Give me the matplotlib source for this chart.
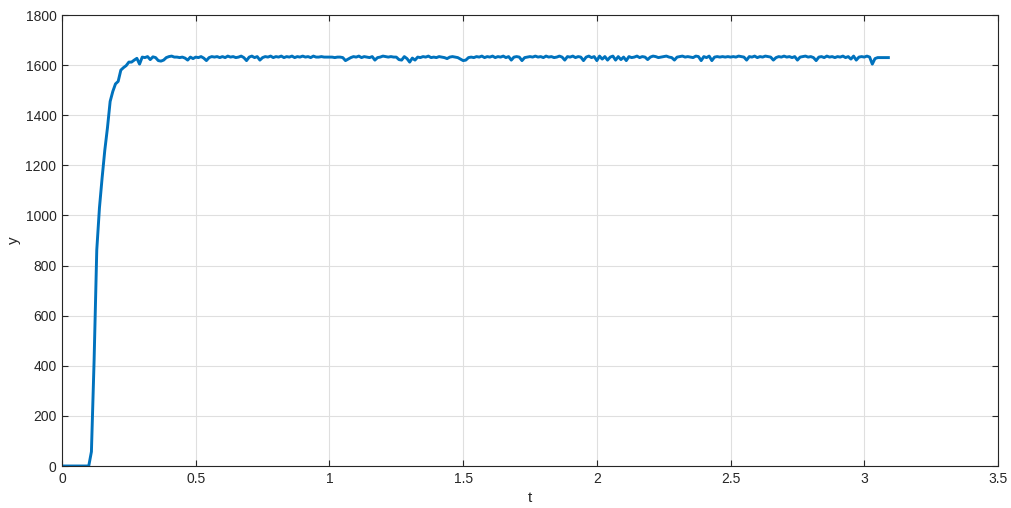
import numpy as np
import matplotlib
matplotlib.use("Agg")
import matplotlib.pyplot as plt

dt = 0.01
rise = [0, 0, 0, 0, 0, 0, 0, 0, 0, 0, 0,
        57, 420, 862, 1030, 1150, 1260, 1350, 1455, 1495,
        1525, 1535, 1580, 1590, 1598, 1612, 1612, 1620, 1627, 1604]
plateau = [
    1632, 1630, 1634, 1622, 1633, 1630, 1618, 1616, 1620, 1630,
    1634, 1636, 1632, 1632, 1630, 1632, 1628, 1620, 1632, 1626,
    1632, 1630, 1634, 1628, 1618, 1630, 1634, 1632, 1634, 1630,
    1634, 1630, 1636, 1632, 1634, 1630, 1632, 1636, 1630, 1618,
    1632, 1636, 1630, 1634, 1620, 1630, 1634, 1632, 1636, 1630,
    1634, 1632, 1636, 1630, 1634, 1632, 1636, 1630, 1634, 1632,
    1636, 1632, 1634, 1630, 1636, 1632, 1632, 1634, 1632, 1632,
    1632, 1632, 1630, 1632, 1632, 1630, 1618, 1624, 1630, 1634,
    1632, 1636, 1630, 1634, 1632, 1630, 1634, 1620, 1630, 1632,
    1636, 1634, 1632, 1634, 1632, 1632, 1622, 1620, 1634, 1626,
    1612, 1628, 1620, 1632, 1630, 1634, 1632, 1636, 1630, 1632,
    1630, 1634, 1632, 1630, 1626, 1632, 1634, 1632, 1630, 1624,
    1618, 1620, 1630, 1632, 1630, 1634, 1632, 1636, 1630, 1634,
    1632, 1636, 1630, 1634, 1632, 1636, 1630, 1634, 1620, 1632,
    1634, 1632, 1618, 1630, 1632, 1634, 1632, 1636, 1632, 1634,
    1630, 1636, 1632, 1634, 1630, 1632, 1636, 1632, 1620, 1634,
    1632, 1636, 1630, 1634, 1632, 1618, 1632, 1636, 1630, 1634,
    1618, 1636, 1624, 1634, 1620, 1632, 1636, 1620, 1634, 1622,
    1632, 1618, 1634, 1630, 1632, 1636, 1630, 1634, 1632, 1622,
    1632, 1636, 1634, 1630, 1632, 1634, 1636, 1632, 1630, 1620,
    1632, 1634, 1636, 1632, 1634, 1632, 1630, 1636, 1634, 1618,
    1634, 1630, 1636, 1618, 1632, 1634, 1632, 1634, 1632, 1634,
    1632, 1634, 1632, 1636, 1634, 1632, 1620, 1634, 1632, 1636,
    1630, 1634, 1632, 1636, 1634, 1632, 1620, 1630, 1634, 1632,
    1636, 1632, 1634, 1630, 1634, 1620, 1632, 1634, 1636, 1632,
    1634, 1630, 1618, 1632, 1634, 1630, 1636, 1632, 1634, 1630,
    1634, 1632, 1636, 1630, 1634, 1624, 1636, 1620, 1632, 1634,
    1632, 1636, 1632, 1604, 1626, 1630, 1630, 1630, 1630, 1630,
]
y = np.array(rise + plateau, dtype=float)
t = np.arange(len(y)) * dt

xticks = [0, 0.5, 1, 1.5, 2, 2.5, 3, 3.5]
xticklabels = ["0", "0.5", "1", "1.5", "2", "2.5", "3", "3.5"]
yticks = [0, 200, 400, 600, 800, 1000, 1200, 1400, 1600, 1800]

plt.rcParams['font.family'] = ['Liberation Sans', 'DejaVu Sans']
fig = plt.figure(figsize=(10.12, 5.08), dpi=100)
ax = fig.add_axes([62/1012, 42/508, 936/1012, 451/508])
ax.plot(t, y, color='#0072BD', linewidth=2.1)
ax.set_xlim(0, 3.5)
ax.set_ylim(0, 1800)
ax.set_xticks(xticks)
ax.set_xticklabels(xticklabels)
ax.set_yticks(yticks)
ax.grid(True, color='#dfdfdf', linewidth=0.8)
ax.set_axisbelow(True)
ax.tick_params(direction='in', top=True, right=True, length=4, width=0.8,
               colors='#262626', labelsize=10, pad=4)
for s in ax.spines.values():
    s.set_color('#262626')
    s.set_linewidth(0.8)
ax.set_xlabel('t', fontsize=11, color='#262626', labelpad=4)
ax.set_ylabel('y', fontsize=11, color='#262626', labelpad=3)
fig.savefig('out.png', dpi=100)
